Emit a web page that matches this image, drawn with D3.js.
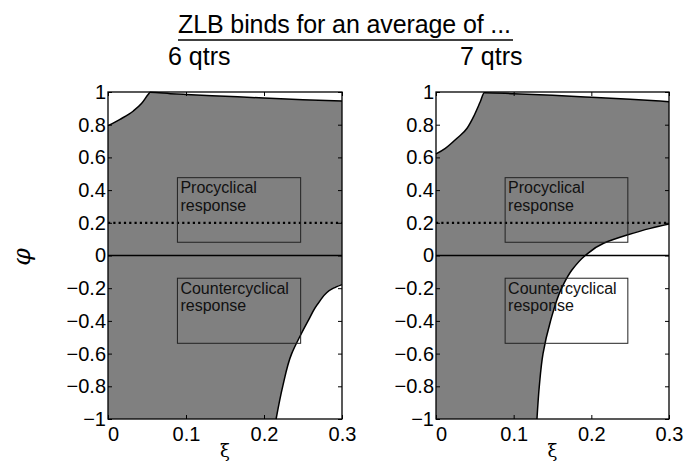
<!DOCTYPE html>
<html>
<head>
<meta charset="utf-8">
<script src="https://cdn.jsdelivr.net/npm/d3@7"></script>
<style>
  body { margin: 0; background: #fff; }
  svg { display: block; }
  .tick text { font-family: "Liberation Sans", Arial, sans-serif; font-size: 20px; fill: #000; }
  .tick line { stroke: #000; }
</style>
</head>
<body>
<svg id="chart" width="685" height="462"></svg>
<script>
// Data

const panelTitles = ["6 qtrs", "7 qtrs"];
const xTicks = [0, 0.1, 0.2, 0.3];
const yTicks = [-1, -0.8, -0.6, -0.4, -0.2, 0, 0.2, 0.4, 0.6, 0.8, 1];
const yTickLabels = ["\u22121", "\u22120.8", "\u22120.6", "\u22120.4", "\u22120.2", "0", "0.2", "0.4", "0.6", "0.8", "1"];

// upper boundary [xi, phi]
const upper6 = [[0, 0.794], [0.0154, 0.833], [0.0325, 0.884], [0.0432, 0.931], [0.0517, 0.986],
  [0.054, 0.998], [0.08, 0.99], [0.1, 0.985], [0.15, 0.974], [0.2, 0.963], [0.25, 0.953], [0.3, 0.945]];
// lower boundary [xi, phi]
const lower6 = [[0.2155, -1], [0.224, -0.8], [0.2355, -0.6], [0.2455, -0.5], [0.2565, -0.4],
  [0.2696, -0.292], [0.289, -0.2], [0.3, -0.178]];

const upper7 = [[0, 0.621], [0.012, 0.655], [0.027, 0.717], [0.04, 0.778], [0.0484, 0.849],
  [0.057, 0.94], [0.0622, 0.996], [0.1, 0.99], [0.15, 0.98], [0.2, 0.968], [0.25, 0.955], [0.3, 0.941]];
const lower7 = [[0.130, -1], [0.133, -0.8], [0.1378, -0.6], [0.1472, -0.405], [0.1622, -0.195],
  [0.175, -0.089], [0.1922, 0], [0.2158, 0.075], [0.246, 0.125], [0.276, 0.166], [0.3, 0.193]];

const refLine = 0.2;
const boxes = [
  { x0: 0.089, x1: 0.247, y0: 0.081, y1: 0.476, lines: ["Procyclical", "response"] },
  { x0: 0.089, x1: 0.247, y0: -0.537, y1: -0.139, lines: ["Countercyclical", "response"] }
];

const panels = [
  { title: panelTitles[0], upper: upper6, lower: lower6, left: 108, right: 342, titleX: 168 },
  { title: panelTitles[1], upper: upper7, lower: lower7, left: 436, right: 669, titleX: 460 }
];

// Layout

const svg = d3.select("#chart");
const plotTop = 92, plotBottom = 419;

// title
svg.append("text")
  .attr("x", 178).attr("y", 33)
  .attr("textLength", 333).attr("lengthAdjust", "spacing")
  .style("font-family", "Liberation Sans, Arial, sans-serif")
  .style("font-size", "25px")
  .text("ZLB binds for an average of ...");
svg.append("line")
  .attr("x1", 178).attr("x2", 513).attr("y1", 40).attr("y2", 40)
  .attr("stroke", "#000").attr("stroke-width", 1.3);

// y label
svg.append("text")
  .attr("transform", "translate(30,257) rotate(-90)")
  .attr("text-anchor", "middle")
  .style("font-family", "DejaVu Serif, serif")
  .style("font-style", "italic")
  .style("font-size", "25px")
  .text("\u03c6");

panels.forEach(p => {
  const x = d3.scaleLinear().domain([0, 0.3]).range([p.left, p.right]);
  const y = d3.scaleLinear().domain([-1, 1]).range([plotBottom, plotTop]);
  const g = svg.append("g");

  svg.append("text")
    .attr("x", p.titleX).attr("y", 65)
    .style("font-family", "Liberation Sans, Arial, sans-serif")
    .style("font-size", "25px")
    .text(p.title);

  // gray region = whole plot minus the white areas above and below the boundaries
  g.append("rect")
    .attr("x", p.left).attr("y", plotTop)
    .attr("width", p.right - p.left).attr("height", plotBottom - plotTop)
    .attr("fill", "#808080");

  const lineX = d3.line().x(d => x(d[0])).y(d => y(d[1])).curve(d3.curveMonotoneX);
  const lineY = d3.line().x(d => x(d[0])).y(d => y(d[1])).curve(d3.curveMonotoneY);
  const areaTop = d3.area().x(d => x(d[0])).y0(y(1)).y1(d => y(d[1])).curve(d3.curveMonotoneX);

  g.append("path").attr("d", areaTop(p.upper)).attr("fill", "#fff");
  g.append("path")
    .attr("d", lineY(p.lower) + `L${x(0.3)},${y(-1)}Z`)
    .attr("fill", "#fff");

  g.append("path").attr("d", lineX(p.upper))
    .attr("fill", "none").attr("stroke", "#000").attr("stroke-width", 1.5);
  g.append("path").attr("d", lineY(p.lower))
    .attr("fill", "none").attr("stroke", "#000").attr("stroke-width", 1.5);

  // zero and reference lines
  g.append("line")
    .attr("x1", x(0)).attr("x2", x(0.3)).attr("y1", y(0)).attr("y2", y(0))
    .attr("stroke", "#000").attr("stroke-width", 1.3);
  g.append("line")
    .attr("x1", x(0)).attr("x2", x(0.3)).attr("y1", y(refLine)).attr("y2", y(refLine))
    .attr("stroke", "#000").attr("stroke-width", 2.2).attr("stroke-dasharray", "2.2,3.1");

  // text boxes
  boxes.forEach(b => {
    g.append("rect")
      .attr("x", x(b.x0)).attr("y", y(b.y1))
      .attr("width", x(b.x1) - x(b.x0)).attr("height", y(b.y0) - y(b.y1))
      .attr("fill", "none").attr("stroke", "#222").attr("stroke-width", 1);
    b.lines.forEach((t, i) => {
      g.append("text")
        .attr("x", x(b.x0) + 3).attr("y", y(b.y1) + 15.5 + i * 17.5)
        .style("font-family", "Liberation Sans, Arial, sans-serif")
        .style("font-size", "16px")
        .attr("fill", "#111")
        .text(t);
    });
  });

  // axes (inward ticks)
  const xAxis = g.append("g").attr("transform", `translate(0,${plotBottom})`)
    .call(d3.axisBottom(x).tickValues(xTicks).tickFormat(d3.format("")).tickSizeInner(-4).tickSizeOuter(0).tickPadding(8));
  xAxis.selectAll(".tick text").filter(d => d === 0).attr("dx", 5);
  g.append("g").attr("transform", `translate(0,${plotTop})`)
    .call(d3.axisTop(x).tickValues(xTicks).tickFormat("").tickSizeInner(-4).tickSizeOuter(0));
  g.append("g").attr("transform", `translate(${p.left},0)`)
    .call(d3.axisLeft(y).tickValues(yTicks).tickFormat((d, i) => yTickLabels[i]).tickSizeInner(-4).tickSizeOuter(0).tickPadding(2));
  g.append("g").attr("transform", `translate(${p.right},0)`)
    .call(d3.axisRight(y).tickValues(yTicks).tickFormat("").tickSizeInner(-4).tickSizeOuter(0));
  g.selectAll(".domain").remove();

  g.append("rect")
    .attr("x", p.left).attr("y", plotTop)
    .attr("width", p.right - p.left).attr("height", plotBottom - plotTop)
    .attr("fill", "none").attr("stroke", "#000").attr("stroke-width", 1.3);

  svg.append("text")
    .attr("x", (p.left + p.right) / 2).attr("y", 457)
    .attr("text-anchor", "middle")
    .style("font-family", "DejaVu Serif, serif")
    .style("font-size", "18px")
    .text("\u03be");
});
</script>
</body>
</html>
